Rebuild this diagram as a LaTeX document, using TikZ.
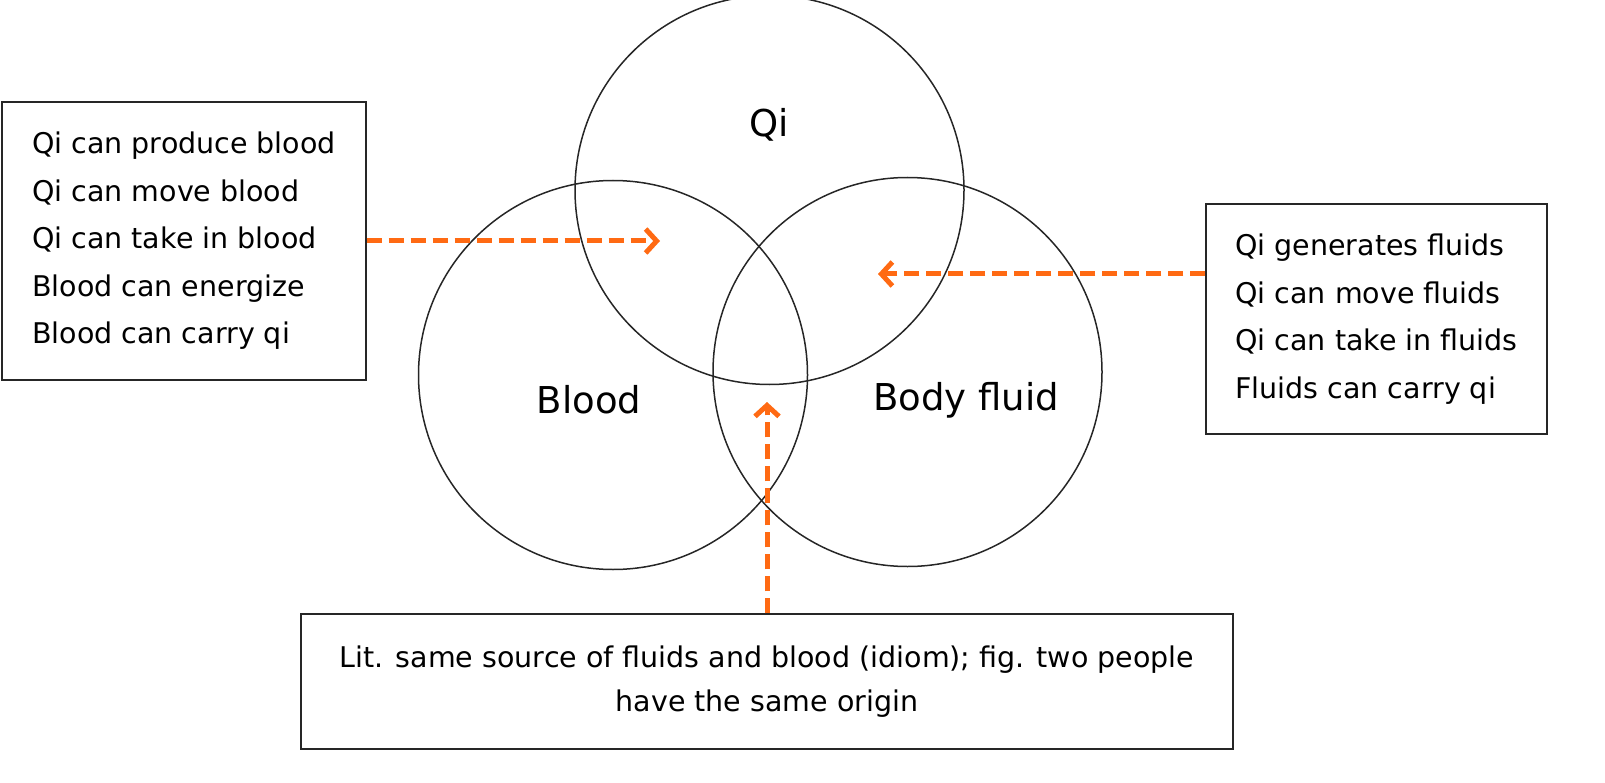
\documentclass[tikz,border=0pt]{standalone}
\usepackage{fontspec}
\setmainfont{DejaVu Sans}
\usetikzlibrary{arrows.meta}
\definecolor{arrOrange}{HTML}{FF6A13}
\tikzset{setCircle/.style={draw=black!85, line width=1.5pt, outer sep=0pt}}
\tikzset{noteBox/.style={draw=black!85, line width=1.2pt, align=left, font=\fontsize{28.5}{47.5}\selectfont}}
\tikzset{linkArrow/.style={draw=arrOrange, line width=5pt, dash pattern=on 15pt off 7pt, -{Straight Barb[length=11pt,width=24pt,line width=5pt]}}}
\begin{document}
\begin{tikzpicture}[x=1pt,y=-1pt]
\useasboundingbox (0,0) rectangle (1605,783);

\node[setCircle, circle, minimum size=389pt] (qi) at (769.5,190) {};
\node[setCircle, circle, minimum size=389pt] (blood) at (613,375) {};
\node[setCircle, circle, minimum size=389pt] (fluid) at (907.5,372) {};

\node[font=\fontsize{37}{44}\selectfont] (qiLbl) at (769,125) {Qi};
\node[font=\fontsize{37}{44}\selectfont] (bloodLbl) at (589,400) {Blood};
\node[font=\fontsize{37}{44}\selectfont] (fluidLbl) at (966,400) {Body fluid};

\node[noteBox, minimum width=364pt, minimum height=278pt] (leftNote) at (184,241)
  {Qi can produce blood\\Qi can move blood\\Qi can take in blood\\Blood can energize\\Blood can carry qi};
\node[noteBox, minimum width=341pt, minimum height=230pt] (rightNote) at (1376.5,319)
  {Qi generates fluids\\Qi can move fluids\\Qi can take in fluids\\Fluids can carry qi};
\node[noteBox, align=center, font=\fontsize{28.5}{44}\selectfont, minimum width=932pt, minimum height=135pt] (idiomNote) at (767,681.5)
  {Lit. same source of fluids and blood (idiom); fig. two people\\have the same origin};

\coordinate (leftTip) at (660,241);
\coordinate (rightTip) at (878,274);
\coordinate (bottomTip) at (767,402);
\draw[linkArrow] (leftNote.east |- leftTip) -- (leftTip);
\draw[linkArrow] (rightNote.west |- rightTip) -- (rightTip);
\draw[linkArrow] (idiomNote.north -| bottomTip) -- (bottomTip);
\end{tikzpicture}
\end{document}
